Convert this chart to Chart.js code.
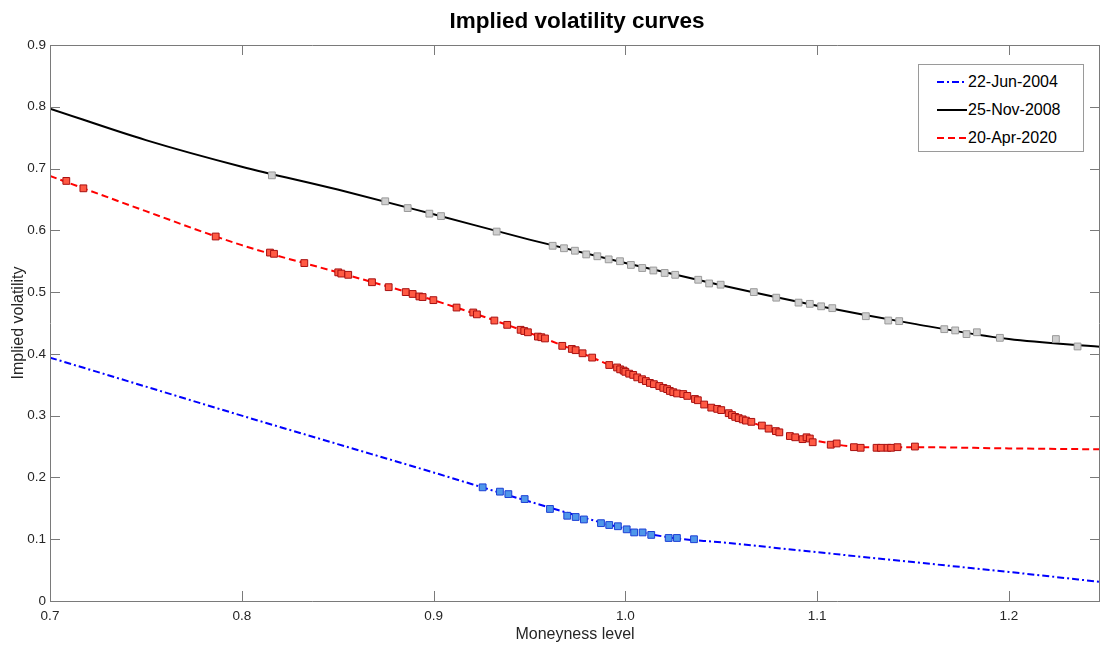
<!DOCTYPE html>
<html>
<head>
<meta charset="utf-8">
<script src="https://cdn.jsdelivr.net/npm/chart.js@4.4.1/dist/chart.umd.min.js"></script>
<style>
  html, body { margin: 0; padding: 0; background: #fff; }
  #wrap { position: relative; width: 1100px; height: 646px; }
  #legend {
    position: absolute; left: 918px; top: 64px; width: 164px; height: 86px;
    border: 1px solid #9a9a9a; background: #fff;
    font-family: "Liberation Sans", Arial, sans-serif; font-size: 16px; color: #000;
  }
  .item { position: absolute; left: 18px; height: 20px; display: flex; align-items: center; }
  .item svg { width: 30px; height: 6px; margin-right: 1px; }
</style>
</head>
<body>
<div id="wrap">
  <canvas id="chart" width="1100" height="646"></canvas>
  <div id="legend"></div>
</div>
<script>
// Axis ticks
const xTicks = [0.7, 0.8, 0.9, 1.0, 1.1, 1.2];
const yTicks = [0, 0.1, 0.2, 0.3, 0.4, 0.5, 0.6, 0.7, 0.8, 0.9];

const seriesLabels = ['22-Jun-2004', '25-Nov-2008', '20-Apr-2020'];

// Fitted curves
const curve2004X = [0.70, 0.75, 0.80, 0.85, 0.90, 0.95, 1.00, 1.025, 1.05, 1.10, 1.15, 1.20, 1.2475];
const curve2004Y = [0.394, 0.347, 0.300, 0.254, 0.208, 0.161, 0.117, 0.102, 0.095, 0.079, 0.063, 0.047, 0.031];

const curve2008X = [0.70, 0.75, 0.80, 0.85, 0.90, 0.95, 1.00, 1.05, 1.10, 1.15, 1.20, 1.2475];
const curve2008Y = [0.797, 0.746, 0.703, 0.666, 0.626, 0.585, 0.547, 0.511, 0.478, 0.449, 0.424, 0.4115];

const curve2020X = [0.70, 0.75, 0.80, 0.85, 0.90, 0.95, 0.975, 1.00, 1.025, 1.05, 1.075, 1.10, 1.125, 1.15, 1.20, 1.2475];
const curve2020Y = [0.688, 0.631, 0.576, 0.532, 0.487, 0.434, 0.404, 0.371, 0.338, 0.309, 0.279, 0.259, 0.249, 0.249, 0.247, 0.2455];

// Market quotes (square markers)
const quotes2004X = [0.9256, 0.9346, 0.939, 0.9475, 0.9607, 0.9697, 0.9741, 0.9784, 0.9873, 0.9916, 0.9961, 1.0007, 1.0046, 1.009, 1.0135, 1.0226, 1.0269, 1.0358];
const quotes2004Y = [0.184, 0.177, 0.173, 0.165, 0.149, 0.138, 0.136, 0.132, 0.126, 0.123, 0.121, 0.116, 0.111, 0.111, 0.107, 0.102, 0.102, 0.100];

const quotes2008X = [0.8157, 0.8748, 0.8865, 0.8978, 0.9039, 0.9329, 0.9621, 0.968, 0.9737, 0.9796, 0.9854, 0.9913, 0.9972, 1.0029, 1.0088, 1.0146, 1.0205, 1.026, 1.038, 1.0437, 1.0497, 1.067, 1.0787, 1.0903, 1.0962, 1.1021, 1.1079, 1.1254, 1.1371, 1.1428, 1.1663, 1.172, 1.1779, 1.1833, 1.1953, 1.2245, 1.2358];
const quotes2008Y = [0.689, 0.647, 0.636, 0.627, 0.623, 0.598, 0.575, 0.571, 0.567, 0.561, 0.558, 0.553, 0.550, 0.544, 0.539, 0.535, 0.531, 0.528, 0.520, 0.514, 0.512, 0.500, 0.491, 0.483, 0.481, 0.477, 0.474, 0.461, 0.454, 0.453, 0.440, 0.438, 0.432, 0.435, 0.426, 0.424, 0.412];

const quotes2020X = [0.7085, 0.7174, 0.7864, 0.8147, 0.8168, 0.8326, 0.8503, 0.8519, 0.8555, 0.8679,
  0.8766, 0.8855, 0.8891, 0.8926, 0.8943, 0.8999, 0.912, 0.9207, 0.9226, 0.9317,
  0.9384, 0.9454, 0.9473, 0.9492, 0.9544, 0.9562, 0.9581, 0.9671, 0.9721, 0.9741,
  0.9777, 0.9827, 0.9916, 0.9957, 0.9973, 0.9991, 1.0, 1.002, 1.0041, 1.0062,
  1.0087, 1.0107, 1.0128, 1.0149, 1.0177, 1.0198, 1.0218, 1.0232, 1.025, 1.027,
  1.0302, 1.0323, 1.0363, 1.0378, 1.0411, 1.0448, 1.0479, 1.05, 1.0539, 1.0556,
  1.0573, 1.0591, 1.0612, 1.0629, 1.0657, 1.0712, 1.0747, 1.0785, 1.0803, 1.0858,
  1.0886, 1.0924, 1.0945, 1.0962, 1.0977, 1.1071, 1.1102, 1.1192, 1.1227, 1.131,
  1.1333, 1.1367, 1.1386, 1.1419, 1.151];
const quotes2020Y = [0.680, 0.668, 0.590, 0.564, 0.562, 0.547, 0.532, 0.530, 0.528, 0.516,
  0.508, 0.500, 0.497, 0.493, 0.492, 0.487, 0.475, 0.467, 0.464, 0.454,
  0.447, 0.439, 0.437, 0.435, 0.428, 0.427, 0.425, 0.413, 0.408, 0.406,
  0.401, 0.394, 0.382, 0.378, 0.375, 0.373, 0.371, 0.368, 0.366, 0.362,
  0.359, 0.356, 0.353, 0.351, 0.348, 0.345, 0.343, 0.340, 0.338, 0.336,
  0.335, 0.332, 0.327, 0.325, 0.318, 0.313, 0.311, 0.309, 0.304, 0.301,
  0.298, 0.296, 0.294, 0.292, 0.290, 0.284, 0.279, 0.275, 0.273, 0.267,
  0.265, 0.262, 0.265, 0.263, 0.257, 0.253, 0.255, 0.249, 0.248, 0.248,
  0.248, 0.248, 0.248, 0.249, 0.250];

const FONT = '"Liberation Sans", Arial, sans-serif';

function pts(xs, ys) {
  return xs.map((x, i) => ({ x: x, y: ys[i] }));
}

function curve(label, xs, ys, color, dash) {
  return {
    label: label, data: pts(xs, ys), showLine: true,
    borderColor: color, borderWidth: 2, borderDash: dash,
    pointRadius: 0, pointHoverRadius: 0,
    tension: 0.4, cubicInterpolationMode: 'monotone', order: 2
  };
}

function quotes(xs, ys, fill, edge) {
  return {
    label: '', data: pts(xs, ys), showLine: false,
    pointStyle: 'rect', pointRadius: 4.8, borderWidth: 1,
    backgroundColor: fill, borderColor: edge, order: 1
  };
}

const datasets = [
  curve(seriesLabels[0], curve2004X, curve2004Y, '#0000ff', [7, 3, 2, 3]),
  curve(seriesLabels[1], curve2008X, curve2008Y, '#000000', []),
  curve(seriesLabels[2], curve2020X, curve2020Y, '#ff0000', [7, 4]),
  quotes(quotes2004X, quotes2004Y, '#4f97ea', '#1c3fd6'),
  quotes(quotes2008X, quotes2008Y, '#cfcfcf', '#9a9a9a'),
  quotes(quotes2020X, quotes2020Y, '#ff5a44', '#a81010')
];

// box, inward ticks, title
const frame = {
  id: 'frame',
  afterDatasetsDraw(chart) {
    const { ctx, chartArea: a, scales } = chart;
    ctx.save();
    ctx.strokeStyle = '#7a7a7a';
    ctx.lineWidth = 1;
    ctx.beginPath();
    ctx.rect(a.left + 0.5, a.top + 0.5, a.right - a.left - 1, a.bottom - a.top);
    xTicks.forEach(v => {
      const px = Math.round(scales.x.getPixelForValue(v)) + 0.5;
      ctx.moveTo(px, a.bottom); ctx.lineTo(px, a.bottom - 10);
      ctx.moveTo(px, a.top); ctx.lineTo(px, a.top + 10);
    });
    yTicks.forEach(v => {
      const py = Math.round(scales.y.getPixelForValue(v)) + 0.5;
      ctx.moveTo(a.left, py); ctx.lineTo(a.left + 10, py);
      ctx.moveTo(a.right, py); ctx.lineTo(a.right - 10, py);
    });
    ctx.stroke();
    ctx.fillStyle = '#000';
    ctx.font = 'bold 22.5px ' + FONT;
    ctx.textAlign = 'center';
    ctx.textBaseline = 'middle';
    ctx.fillText('Implied volatility curves', (a.left + a.right) / 2 + 2, 22);
    ctx.restore();
  }
};

new Chart(document.getElementById('chart'), {
  type: 'scatter',
  data: { datasets: datasets },
  options: {
    responsive: false,
    animation: false,
    devicePixelRatio: 1,
    layout: { autoPadding: false, padding: { top: 45, right: 0, left: 0, bottom: 0 } },
    plugins: {
      legend: { display: false },
      tooltip: { enabled: false }
    },
    scales: {
      x: {
        type: 'linear', min: 0.7, max: 1.2475,
        afterFit: s => { s.height = 45; },
        afterBuildTicks: s => { s.ticks = xTicks.map(v => ({ value: v })); },
        grid: { display: false, drawTicks: false },
        border: { display: false },
        ticks: {
          padding: 7, color: '#262626', font: { family: FONT, size: 13.5 },
          callback: v => v === 0 ? '0' : Number(v).toFixed(1)
        },
        title: {
          display: true, text: 'Moneyness level', color: '#262626',
          font: { family: FONT, size: 16 }, padding: { top: 0, bottom: 2 }
        }
      },
      y: {
        type: 'linear', min: 0, max: 0.9,
        afterFit: s => { s.width = 50; },
        afterBuildTicks: s => { s.ticks = yTicks.map(v => ({ value: v })); },
        grid: { display: false, drawTicks: false },
        border: { display: false },
        ticks: {
          padding: 4, color: '#262626', font: { family: FONT, size: 13.5 },
          callback: v => v === 0 ? '0' : Number(v).toFixed(1)
        },
        title: {
          display: true, text: 'Implied volatility', color: '#262626',
          font: { family: FONT, size: 16 }, padding: { top: 9, bottom: 0 }
        }
      }
    }
  },
  plugins: [frame]
});

// legend (DOM text)
const legendStyles = [
  { color: '#0000ff', dash: '7 3 2 3' },
  { color: '#000000', dash: '' },
  { color: '#ff0000', dash: '7 4' }
];
const legendTops = [7, 35, 63];
const legend = document.getElementById('legend');
seriesLabels.forEach((label, i) => {
  const st = legendStyles[i];
  legend.insertAdjacentHTML('beforeend',
    '<div class="item" style="top:' + legendTops[i] + 'px">' +
    '<svg viewBox="0 0 30 6"><line x1="0" y1="3" x2="30" y2="3" stroke="' + st.color +
    '" stroke-width="2" stroke-dasharray="' + st.dash + '"/></svg>' +
    '<span>' + label + '</span></div>');
});
</script>
</body>
</html>
